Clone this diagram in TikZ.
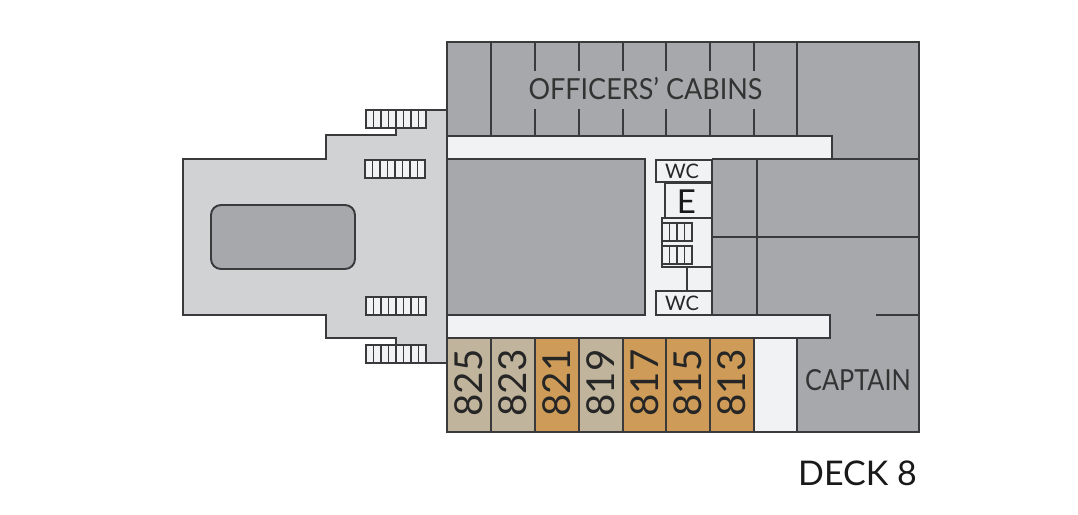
\documentclass[tikz,border=0pt]{standalone}
\usepackage{fontspec}
\setmainfont{Lato}
\definecolor{roomgray}{HTML}{A7A8AB}
\definecolor{deckgray}{HTML}{D1D2D4}
\definecolor{hallwhite}{HTML}{F1F2F4}
\definecolor{cabintan}{HTML}{C0B49C}
\definecolor{cabinorange}{HTML}{CE9C58}
\definecolor{wallink}{HTML}{3A3A3C}
\tikzset{
  wall/.style={draw=wallink,line width=1.9pt,line join=miter},
  cabinno/.style={rotate=90,text=black!85,font=\fontsize{38.5}{38}\selectfont,inner sep=0pt},
  roomname/.style={text=black!80,font=\fontsize{29}{29}\selectfont,inner sep=0pt},
  wclabel/.style={text=black!85,font=\fontsize{20}{20}\selectfont,inner sep=0pt},
}
\begin{document}
\begin{tikzpicture}[x=1pt,y=-1pt]
  \useasboundingbox (0,0) rectangle (1078,514);

  % open deck
  \filldraw[wall,fill=deckgray] (447,110) -- (396,110) -- (396,135) -- (326,135) -- (326,159) -- (183,159)
    -- (183,315) -- (326,315) -- (326,338) -- (396,338) -- (396,363) -- (447,363) -- cycle;
  \filldraw[wall,fill=roomgray,rounded corners=10pt] (211,205) rectangle (355,269);

  % stairs on the deck
  \foreach \sx/\sy in {366/110,365/160,366/297,366/345}{
    \filldraw[wall,fill=hallwhite] (\sx,\sy) rectangle ++(60,18);
    \foreach \i in {1,...,7}
      \draw[wall,line width=1.5pt] (\sx+\i*7.5,\sy) -- ++(0,18);
  }

  % rooms
  \filldraw[wall,fill=roomgray] (447,42) rectangle (919,432);
  \fill[hallwhite] (447,136) rectangle (832,159);
  \fill[hallwhite] (447,315) rectangle (830,338);
  \fill[hallwhite] (645,159) rectangle (712,315);
  \draw[wall] (447,136) -- (832,136) -- (832,159) -- (919,159);
  \draw[wall] (447,159) -- (645,159) -- (645,315) -- (447,315);
  \draw[wall] (712,159) -- (832,159);
  \draw[wall] (712,315) -- (830,315) -- (830,338) -- (447,338);
  \draw[wall] (876,315) -- (919,315);
  \draw[wall] (757,159) -- (757,315);
  \draw[wall] (712,237) -- (919,237);
  \draw[wall] (712,159) -- (712,315);
  \draw[wall] (447,42) -- (447,432);

  % officers row
  \foreach \cx in {491,797}
    \draw[wall] (\cx,42) -- (\cx,136);
  \foreach \cx in {535,579,623,666,710,754}{
    \draw[wall] (\cx,42) -- (\cx,71);
    \draw[wall] (\cx,109) -- (\cx,136);
  }

  % core
  \filldraw[wall,fill=hallwhite] (656,160) rectangle (712,182);
  \filldraw[wall,fill=hallwhite] (656,291) rectangle (712,315);
  \draw[wall] (712,183) -- (665,183) -- (665,218);
  \draw[wall] (712,218) -- (662,218) -- (662,267) -- (712,267);
  \draw[wall] (687,267) -- (687,291);
  \foreach \sy in {223,246}{
    \draw[wall,line width=1.4pt] (662,\sy) rectangle ++(30,18);
    \foreach \i in {1,2,3}
      \draw[wall,line width=1.4pt] (662+\i*7.5,\sy) -- ++(0,18);
  }

  % cabins
  \foreach \cx/\cno/\ctint in {447/825/cabintan,491/823/cabintan,535/821/cabinorange,579/819/cabintan,623/817/cabinorange,666/815/cabinorange,710/813/cabinorange}{
    \filldraw[wall,fill=\ctint] (\cx,338) rectangle ++(44,94);
    \node[cabinno] (c\cno) at (\cx+22,383) {\cno};
  }
  \filldraw[wall,fill=hallwhite] (754,338) rectangle (797,432);

  % labels
  \node[roomname,xscale=.93] (officers) at (645.5,89) {OFFICERS’ CABINS};
  \node[roomname,xscale=.87] (captain) at (858,380) {CAPTAIN};
  \node[wclabel] (wctop) at (682,171) {WC};
  \node[wclabel] (wcbot) at (682,303) {WC};
  \node[text=black!90,font=\fontsize{33}{33}\selectfont,inner sep=0pt] (elev) at (686.5,202) {E};
  \node[text=black!90,font=\fontsize{34}{34}\selectfont,inner sep=0pt,anchor=east] (deck) at (917,473) {DECK 8};
\end{tikzpicture}
\end{document}
